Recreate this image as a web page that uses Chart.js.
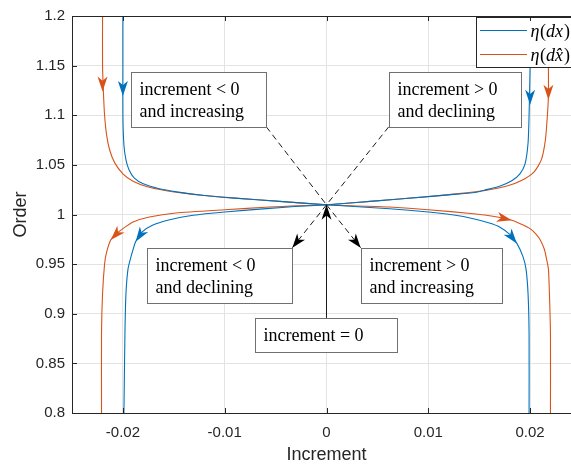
<!DOCTYPE html>
<html>
<head>
<meta charset="utf-8">
<script src="https://cdn.jsdelivr.net/npm/chart.js@4.4.1/dist/chart.umd.min.js"></script>
<style>
html,body{margin:0;padding:0;background:#fff;overflow:hidden}
#wrap{width:571px;height:466px;overflow:hidden;position:relative}
canvas{display:block}
</style>
</head>
<body>
<div id="wrap"><canvas id="myChart" width="620" height="466"></canvas></div>
<script>
// ticks
const xTicks = [-0.02, -0.01, 0, 0.01, 0.02];
const xTickLabels = ['-0.02', '-0.01', '0', '0.01', '0.02'];
const yTicks = [0.8, 0.85, 0.9, 0.95, 1, 1.05, 1.1, 1.15, 1.2];
const yTickLabels = ['0.8', '0.85', '0.9', '0.95', '1', '1.05', '1.1', '1.15', '1.2'];

// eta(dx): top-left -> centre -> bottom-right
const blueAX = [-0.0200, -0.0200, -0.0200, -0.0199, -0.0197, -0.0194, -0.0189, -0.0180, -0.0166, -0.0147, -0.0120, -0.0090, -0.0046, 0, 0.0031, 0.0062, 0.0100, 0.0125, 0.01443, 0.0160, 0.0170, 0.0180, 0.0187, 0.0193, 0.0196, 0.0198, 0.0199, 0.0199];
const blueAY = [1.20, 1.15, 1.10, 1.07, 1.055, 1.045, 1.037, 1.031, 1.0265, 1.0228, 1.0192, 1.0165, 1.0132, 1.0098, 1.0078, 1.0058, 1.0025, 0.9995, 0.9958, 0.9915, 0.9875, 0.9800, 0.9709, 0.9576, 0.945, 0.920, 0.880, 0.800];
// eta(dx): top-right -> centre -> bottom-left
const blueBX = [0.0200, 0.0200, 0.0199, 0.0198, 0.0195, 0.0190, 0.0182, 0.0170, 0.0155, 0.0146, 0.0120, 0.0097, 0.0046, 0, -0.0031, -0.0056, -0.0100, -0.0131, -0.0154, -0.0171, -0.0181, -0.01875, -0.0192, -0.0195, -0.0197, -0.0198, -0.0199];
const blueBY = [1.20, 1.15, 1.10, 1.072, 1.0507, 1.041, 1.034, 1.0285, 1.0245, 1.0222, 1.0198, 1.0178, 1.0135, 1.0098, 1.0080, 1.0062, 1.0025, 0.9992, 0.9948, 0.9892, 0.9825, 0.9726, 0.9576, 0.945, 0.920, 0.880, 0.800];
// eta(dx^): top-left -> centre -> bottom-right
const orangeAX = [-0.0220, -0.0220, -0.0219, -0.0218, -0.0216, -0.0213, -0.0208, -0.0200, -0.0190, -0.0176, -0.0160, -0.0140, -0.0120, -0.0090, -0.0046, 0, 0.0031, 0.0062, 0.0100, 0.01443, 0.0165, 0.0182, 0.0192, 0.0200, 0.0206, 0.0210, 0.0214, 0.02157, 0.0218, 0.0219, 0.0220, 0.0220];
const orangeAY = [1.20, 1.15, 1.12, 1.10, 1.08, 1.065, 1.052, 1.041, 1.0335, 1.0280, 1.0245, 1.0215, 1.0192, 1.0165, 1.0132, 1.0098, 1.0086, 1.0075, 1.0048, 1.0008, 0.9980, 0.9942, 0.9900, 0.9858, 0.9800, 0.9743, 0.9650, 0.9576, 0.945, 0.920, 0.880, 0.800];
// eta(dx^): top-right -> centre -> bottom-left
const orangeBX = [0.0218, 0.0218, 0.0218, 0.0217, 0.0215, 0.0211, 0.0204, 0.0192, 0.0178, 0.0160, 0.0140, 0.0110, 0.0080, 0.0046, 0, -0.0031, -0.0056, -0.0100, -0.0148, -0.0174, -0.0190, -0.0200, -0.0207, -0.0212, -0.0216, -0.0218, -0.0220, -0.0221, -0.0221];
const orangeBY = [1.20, 1.15, 1.12, 1.10, 1.075, 1.055, 1.043, 1.0345, 1.0290, 1.0250, 1.0222, 1.0190, 1.0163, 1.0135, 1.0098, 1.0087, 1.0075, 1.0048, 1.0015, 0.9975, 0.9925, 0.9858, 0.9800, 0.9743, 0.9620, 0.950, 0.920, 0.880, 0.800];

// direction arrows on the curves (tip, and a point behind it)
const blueTipX = [-0.0200, -0.01875, 0.0200, 0.0187];
const blueTipY = [1.1195, 0.9726, 1.1105, 0.9709];
const blueFromX = [-0.0200, -0.0181, 0.0200, 0.0180];
const blueFromY = [1.14, 0.9825, 1.13, 0.9800];
const orangeTipX = [-0.0220, -0.0212, 0.0218, 0.0182];
const orangeTipY = [1.124, 0.9743, 1.1155, 0.9942];
const orangeFromX = [-0.0220, -0.0204, 0.0218, 0.0168];
const orangeFromY = [1.145, 0.9830, 1.135, 0.9975];

// text boxes
const boxText = [
    ['increment < 0', 'and increasing'],
    ['increment > 0', 'and declining'],
    ['increment < 0', 'and declining'],
    ['increment > 0', 'and increasing'],
    ['increment = 0']
];
const boxX0 = [-0.01921, 0.00611, -0.01764, 0.00335, -0.0070];
const boxX1 = [-0.00591, 0.01911, -0.00335, 0.01724, 0.0069];
const boxY0 = [1.1431, 1.1431, 0.9666, 0.9666, 0.8958];
const boxY1 = [1.0883, 1.0883, 0.9107, 0.9107, 0.8618];

const centreX = 0, centreY = 1.0098;

const legendLabels = ['dx', 'd' + 'x\u0302'];

const blue = '#0072BD';
const orange = '#D95319';
const axisColor = '#262626';

function pts(xs, ys) {
    return xs.map((v, i) => ({x: v, y: ys[i]}));
}

function head(ctx, tx, ty, fx, fy, len, wid, color) {
    const a = Math.atan2(ty - fy, tx - fx);
    const c = Math.cos(a), s = Math.sin(a);
    const bx = tx - len * c, by = ty - len * s;
    const nx = tx - len * 0.72 * c, ny = ty - len * 0.72 * s;
    ctx.beginPath();
    ctx.moveTo(tx, ty);
    ctx.lineTo(bx - wid / 2 * s, by + wid / 2 * c);
    ctx.lineTo(nx, ny);
    ctx.lineTo(bx + wid / 2 * s, by - wid / 2 * c);
    ctx.closePath();
    ctx.fillStyle = color;
    ctx.fill();
}

const annot = {
    id: 'annot',
    afterDatasetsDraw(chart) {
        const {ctx, chartArea: area, scales: {x, y}} = chart;
        const px = v => x.getPixelForValue(v);
        const py = v => y.getPixelForValue(v);
        ctx.save();

        // arrows on curves
        blueTipX.forEach((v, i) => head(ctx, px(v), py(blueTipY[i]), px(blueFromX[i]), py(blueFromY[i]), 15, 10, blue));
        orangeTipX.forEach((v, i) => head(ctx, px(v), py(orangeTipY[i]), px(orangeFromX[i]), py(orangeFromY[i]), 15, 10, orange));

        const cx = px(centreX), cy = py(centreY);
        ctx.strokeStyle = '#1a1a1a';
        ctx.lineWidth = 1;

        // dashed connectors
        ctx.setLineDash([6, 4]);
        ctx.beginPath();
        ctx.moveTo(px(boxX1[0]), py(boxY1[0])); ctx.lineTo(cx, cy);
        ctx.moveTo(px(boxX0[1]), py(boxY1[1])); ctx.lineTo(cx, cy);
        ctx.moveTo(cx, cy); ctx.lineTo(px(boxX1[2]), py(boxY0[2]));
        ctx.moveTo(cx, cy); ctx.lineTo(px(boxX0[3]), py(boxY0[3]));
        ctx.stroke();
        ctx.setLineDash([]);
        head(ctx, px(boxX1[2]), py(boxY0[2]), cx, cy, 14, 10, '#000');
        head(ctx, px(boxX0[3]), py(boxY0[3]), cx, cy, 14, 10, '#000');

        // solid arrow from "increment = 0"
        const b5x = px((boxX0[4] + boxX1[4]) / 2);
        ctx.beginPath();
        ctx.moveTo(Math.round(b5x) + 0.5, py(boxY0[4]));
        ctx.lineTo(Math.round(b5x) + 0.5, cy + 8);
        ctx.stroke();
        head(ctx, cx, cy, cx, py(boxY0[4]), 15, 10, '#000');

        // boxes
        ctx.font = '18px "Liberation Serif", "Times New Roman", serif';
        ctx.textBaseline = 'alphabetic';
        ctx.textAlign = 'left';
        boxText.forEach((lines, i) => {
            const l = Math.round(px(boxX0[i])) + 0.5, r = Math.round(px(boxX1[i])) + 0.5;
            const t = Math.round(py(boxY0[i])) + 0.5, b = Math.round(py(boxY1[i])) + 0.5;
            ctx.fillStyle = '#fff';
            ctx.fillRect(l, t, r - l, b - t);
            ctx.strokeStyle = '#707070';
            ctx.strokeRect(l, t, r - l, b - t);
            ctx.fillStyle = '#000';
            lines.forEach((s, j) => ctx.fillText(s, l + 8, t + 22.5 + j * 21.5));
        });

        // legend (north-east, partly off the visible area like the original)
        const lx = area.right - 104.5, ly = area.top + 1.5, lw = 102, lh = 50;
        ctx.fillStyle = '#fff';
        ctx.fillRect(lx, ly, lw, lh);
        ctx.strokeStyle = '#262626';
        ctx.strokeRect(lx, ly, lw, lh);
        [blue, orange].forEach((col, i) => {
            const yy = Math.round(ly + 12 + i * 24.5) + 0.5;
            ctx.strokeStyle = col;
            ctx.beginPath();
            ctx.moveTo(lx + 3.5, yy);
            ctx.lineTo(lx + 50.5, yy);
            ctx.stroke();
            let tx = lx + 54;
            const base = yy + 6;
            ctx.fillStyle = '#000';
            ctx.font = 'italic 18px "Liberation Serif", serif';
            ctx.fillText('\u03b7', tx, base); tx += ctx.measureText('\u03b7').width + 0.5;
            ctx.font = '18px "Liberation Serif", serif';
            ctx.fillText('(', tx, base); tx += ctx.measureText('(').width;
            ctx.font = 'italic 18px "Liberation Serif", serif';
            ctx.fillText(legendLabels[i], tx, base); tx += ctx.measureText(legendLabels[i]).width + 1;
            ctx.font = '18px "Liberation Serif", serif';
            ctx.fillText(')', tx, base);
        });
        ctx.restore();
    },
    afterDraw(chart) {
        const {ctx, chartArea: a, scales: {x, y}} = chart;
        ctx.save();
        ctx.strokeStyle = axisColor;
        ctx.lineWidth = 1;
        ctx.strokeRect(a.left + 0.5, a.top + 0.5, a.right - a.left, a.bottom - a.top);
        ctx.beginPath();
        xTicks.forEach(v => {
            const p = Math.round(x.getPixelForValue(v)) + 0.5;
            ctx.moveTo(p, a.bottom); ctx.lineTo(p, a.bottom - 5);
            ctx.moveTo(p, a.top); ctx.lineTo(p, a.top + 5);
        });
        yTicks.forEach(v => {
            const p = Math.round(y.getPixelForValue(v)) + 0.5;
            ctx.moveTo(a.left, p); ctx.lineTo(a.left + 5, p);
        });
        ctx.stroke();
        ctx.restore();
    }
};

const tickFont = {family: '"Liberation Sans", Arial, sans-serif', size: 15};
const titleFont = {family: '"Liberation Sans", Arial, sans-serif', size: 18};

const ctx = document.getElementById('myChart').getContext('2d');
const myChart = new Chart(ctx, {
    type: 'scatter',
    data: {
        datasets: [
            {label: 'eta(dx)', data: pts(blueAX, blueAY), borderColor: blue},
            {label: 'eta(dx)', data: pts(blueBX, blueBY), borderColor: blue},
            {label: 'eta(dxhat)', data: pts(orangeAX, orangeAY), borderColor: orange},
            {label: 'eta(dxhat)', data: pts(orangeBX, orangeBY), borderColor: orange}
        ].map(d => Object.assign(d, {showLine: true, pointRadius: 0, borderWidth: 1.1, tension: 0.2, fill: false}))
    },
    options: {
        responsive: false,
        animation: false,
        layout: {padding: {left: 0, top: 12, right: 39, bottom: 0}},
        plugins: {legend: {display: false}, tooltip: {enabled: false}},
        scales: {
            x: {
                type: 'linear',
                min: -0.025,
                max: 0.025,
                afterBuildTicks: s => { s.ticks = xTicks.map(v => ({value: v})); },
                afterFit: s => { s.height = 53; },
                grid: {color: '#e3e3e3', drawTicks: false},
                border: {display: false},
                ticks: {padding: 11, color: axisColor, font: tickFont, autoSkip: false, maxRotation: 0,
                    callback: (v, i) => xTickLabels[i]},
                title: {display: true, text: 'Increment', color: axisColor, font: titleFont, padding: {top: 0, bottom: 0}}
            },
            y: {
                type: 'linear',
                min: 0.8,
                max: 1.2,
                afterBuildTicks: s => { s.ticks = yTicks.map(v => ({value: v})); },
                afterFit: s => { s.width = 72; },
                grid: {color: '#e3e3e3', drawTicks: false},
                border: {display: false},
                ticks: {padding: 7, color: axisColor, font: tickFont, autoSkip: false,
                    callback: (v, i) => yTickLabels[i]},
                title: {display: true, text: 'Order', color: axisColor, font: titleFont, padding: {top: 10, bottom: 0}}
            }
        }
    },
    plugins: [annot]
});
</script>
</body>
</html>
